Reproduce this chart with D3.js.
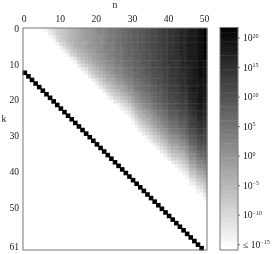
<!DOCTYPE html>
<html>
<head>
<meta charset="utf-8">
<script src="https://cdn.jsdelivr.net/npm/d3@7"></script>
<style>
  html, body { margin: 0; padding: 0; background: #fff; }
  svg { display: block; }
  text { font-family: "Liberation Serif", serif; fill: #222; }
</style>
</head>
<body>
<script>
const nTicks = [0, 10, 20, 30, 40, 50];
const kTicks = [0, 10, 20, 30, 40, 50, 61];
const barExponents = [20, 15, 10, 5, 0, -5, -10, -15];

// black diagonal: rows 12 to 61 for n = 0 to 49
const diagonalRows = [12,13,14,15,16,17,18,19,20,21,22,23,24,25,26,27,28,29,30,31,32,33,34,35,36,
  37,38,39,40,41,42,43,44,45,46,47,48,49,50,51,52,53,54,55,56,57,58,59,60,61];

// cells past the end of a list are at or below the floor
const logByColumn = [
  [], [], [], [], [], [-15],
  [-14],
  [-12,-13,-15],
  [-11,-11,-13,-15],
  [-9,-9,-10,-11,-15],
  [-8,-8,-8,-9,-11,-14],
  [-7,-7,-7,-8,-9,-11,-14],
  [-6,-6,-6,-6,-7,-9,-11,-14],
  [-5,-5,-5,-5,-6,-7,-8,-10,-14],
  [-4,-4,-4,-4,-4,-5,-7,-8,-11,-14],
  [-3,-3,-3,-3,-3,-4,-5,-6,-8,-10,-13],
  [-2,-2,-2,-2,-3,-3,-4,-5,-6,-8,-10,-13],
  [-1,-1,-1,-2,-2,-2,-3,-4,-5,-6,-8,-11,-14],
  [-1,-1,-1,-1,-1,-1,-2,-3,-4,-5,-7,-8,-10,-13],
  [0,0,0,0,0,-1,-1,-2,-2,-3,-5,-6,-8,-10,-13],
  [1,1,1,1,1,0,0,-1,-1,-2,-3,-5,-6,-8,-11,-13],
  [2,2,1,1,1,1,1,0,0,-1,-2,-3,-5,-6,-8,-10,-13],
  [2,2,2,2,2,2,2,1,1,0,-1,-2,-3,-5,-6,-8,-10,-13],
  [3,3,3,3,3,3,2,2,2,1,0,0,-2,-3,-4,-6,-8,-10,-13,-15],
  [4,4,4,4,3,3,3,3,2,2,1,0,0,-2,-3,-5,-6,-8,-10,-13],
  [4,4,4,4,4,4,4,4,3,3,2,2,1,0,-2,-3,-5,-6,-8,-10,-13],
  [5,5,5,5,5,5,5,4,4,4,3,2,2,1,0,-2,-3,-5,-7,-9,-11,-14],
  [6,6,6,6,6,5,5,5,5,4,4,3,3,2,1,-1,-2,-3,-5,-7,-9,-12,-14],
  [6,6,6,6,6,6,6,6,6,5,5,4,4,3,2,1,-1,-2,-4,-6,-8,-10,-12,-14],
  [7,7,7,7,7,7,7,7,6,6,6,5,5,4,3,2,1,0,-2,-4,-5,-8,-10,-12,-14],
  [8,8,8,8,8,7,7,7,7,7,6,6,5,5,4,3,2,1,0,-2,-3,-5,-7,-9,-11,-13,-15],
  [8,8,8,8,8,8,8,8,8,7,7,7,6,6,5,4,4,3,1,0,-1,-3,-4,-6,-8,-10,-12,-14],
  [9,9,9,9,9,9,9,8,8,8,8,7,7,7,6,5,5,4,3,2,1,-1,-2,-4,-5,-7,-9,-11,-13],
  [9,9,9,9,9,9,9,9,9,9,8,8,8,7,7,6,6,5,4,3,2,1,-1,-2,-4,-5,-7,-9,-11,-13],
  [10,10,10,10,10,10,10,10,10,9,9,9,9,8,8,7,6,6,5,4,3,2,1,-1,-2,-4,-5,-7,-9,-11,-13],
  [11,11,11,11,11,11,11,10,10,10,10,10,9,9,9,8,7,7,6,5,4,3,2,1,-1,-2,-3,-5,-7,-9,-11,-13],
  [11,11,11,11,11,11,11,11,11,11,11,10,10,10,9,9,8,8,7,6,6,5,4,2,1,0,-2,-3,-5,-7,-9,-10,-13],
  [12,12,12,12,12,12,12,12,12,11,11,11,11,10,10,10,9,9,8,7,7,6,5,4,3,1,0,-1,-3,-5,-7,-9,-11,-13],
  [13,13,13,13,13,12,12,12,12,12,12,12,11,11,11,10,10,9,9,8,8,7,6,5,4,3,2,0,-1,-3,-5,-7,-9,-11,-13],
  [13,13,13,13,13,13,13,13,13,13,13,12,12,12,12,11,11,10,10,9,9,8,7,6,5,4,3,2,0,-1,-3,-5,-7,-9,-11,-13],
  [14,14,14,14,14,14,14,14,14,14,13,13,13,13,13,12,12,12,11,11,10,9,9,8,7,6,5,4,2,1,-1,-2,-4,-6,-8,-10,-13],
  [14,14,14,14,14,14,14,14,14,14,14,14,14,14,13,13,13,12,12,11,11,10,9,9,8,7,6,5,4,2,1,-1,-2,-4,-6,-8,-10,-13],
  [15,15,15,15,15,15,15,15,15,14,14,14,14,14,14,13,13,13,12,12,11,11,10,9,8,7,6,5,4,3,1,0,-2,-4,-5,-7,-9,-11,-14],
  [16,16,16,16,16,16,16,16,15,15,15,15,15,15,15,14,14,14,13,13,12,12,11,10,10,9,8,7,5,4,3,1,0,-2,-4,-6,-8,-10,-12,-14],
  [16,16,16,16,16,16,16,16,16,16,16,16,15,15,15,15,15,14,14,13,13,12,12,11,10,9,8,7,6,5,4,2,1,-1,-3,-5,-6,-8,-10,-12,-14],
  [17,17,17,17,17,17,17,17,17,17,16,16,16,16,16,16,15,15,14,14,13,13,12,12,11,10,9,9,8,7,6,4,3,1,0,-2,-4,-6,-8,-10,-12,-14],
  [18,18,18,18,18,18,18,18,18,17,17,17,17,17,17,17,17,17,16,16,15,15,14,14,13,12,12,11,10,9,8,7,6,4,3,1,0,-2,-4,-6,-8,-10,-12,-14],
  [18,18,18,18,18,18,18,18,18,18,18,18,18,18,18,18,18,18,17,17,16,16,15,15,14,13,13,12,11,10,9,8,7,5,4,2,0,-1,-3,-5,-7,-9,-11,-13,-15],
  [19,19,19,19,19,19,19,19,19,19,19,19,19,19,19,18,18,18,18,18,18,17,17,16,16,15,14,14,13,12,11,10,9,8,6,5,3,2,0,-2,-4,-6,-8,-10,-12,-14],
  [20,20,20,20,20,20,20,20,20,20,20,20,20,20,19,19,19,19,19,19,19,18,18,17,17,16,15,15,14,13,12,11,10,9,7,6,4,2,1,-1,-3,-5,-7,-9,-11,-13,-15],
  [21,21,21,21,21,21,21,21,21,20,20,20,20,20,20,19,19,19,19,18,18,17,17,16,16,15,15,14,13,12,12,11,10,9,8,7,5,4,2,1,-1,-3,-5,-7,-8,-10,-12,-14]
];

const width = 273, height = 254;
const plot = { left: 23, right: 207, top: 28, bottom: 250 };
const bar = { left: 220, right: 238, top: 27.5, bottom: 250 };
const floorLog = -15.9, ceilLog = 21.8;

const svg = d3.select("body").append("svg")
  .attr("width", width)
  .attr("height", height)
  .style("font-size", "9.6px");

// the reference is a slightly soft downscale
const defs = svg.append("defs");
defs.append("filter").attr("id", "soft")
  .attr("x", "-5%").attr("y", "-5%").attr("width", "110%").attr("height", "110%")
  .append("feGaussianBlur").attr("stdDeviation", 0.45);
defs.append("filter").attr("id", "softText")
  .attr("filterUnits", "userSpaceOnUse")
  .attr("x", 0).attr("y", 0).attr("width", width).attr("height", height)
  .append("feGaussianBlur").attr("stdDeviation", 0.25);

const x = d3.scaleBand().domain(d3.range(51)).range([plot.left, plot.right]);
const y = d3.scaleBand().domain(d3.range(62)).range([plot.top, plot.bottom]);
const shade = d3.scaleLinear().domain([floorLog, ceilLog]).range(["#ffffff", "#000000"]).clamp(true);
const barY = d3.scaleLinear().domain([floorLog, ceilLog]).range([bar.bottom, bar.top]);

const map = svg.append("g").attr("filter", "url(#soft)");

// heat map cells
const cells = logByColumn.flatMap((col, n) => col.map((v, k) => ({ n, k, v })));
map.append("g").selectAll("rect")
  .data(cells)
  .join("rect")
  .attr("x", d => x(d.n))
  .attr("y", d => y(d.k))
  .attr("width", x.bandwidth() + 0.4)
  .attr("height", y.bandwidth() + 0.4)
  .attr("fill", d => shade(d.v));

// diagonal, a bit oversized so the steps join up
map.append("g").selectAll("rect")
  .data(diagonalRows)
  .join("rect")
  .attr("x", (d, i) => x(i) - 0.5)
  .attr("y", d => y(d) - 0.5)
  .attr("width", x.bandwidth() + 1)
  .attr("height", y.bandwidth() + 1)
  .attr("fill", "#000");

// frame
svg.append("rect")
  .attr("x", plot.left).attr("y", plot.top)
  .attr("width", plot.right - plot.left).attr("height", plot.bottom - plot.top)
  .attr("fill", "none").attr("stroke", "#777").attr("stroke-width", 1);

// axes
const labels = svg.append("g").attr("filter", "url(#softText)");
const topAxis = labels.append("g")
  .attr("transform", `translate(-0.6,${plot.top})`)
  .call(d3.axisTop(x).tickValues(nTicks).tickSize(0).tickPadding(6));
const leftAxis = labels.append("g")
  .attr("transform", `translate(${plot.left},-1)`)
  .call(d3.axisLeft(y).tickValues(kTicks).tickSize(0).tickPadding(4));
[topAxis, leftAxis].forEach(a => {
  a.select(".domain").remove();
  a.attr("font-family", null).attr("font-size", null);
});

labels.append("text").attr("x", 115).attr("y", 8).attr("text-anchor", "middle").text("n");
labels.append("text").attr("x", 4).attr("y", 122).attr("text-anchor", "middle").text("k");

// colour bar, drawn in steps as in the original
const barSteps = d3.range(floorLog, ceilLog, (ceilLog - floorLog) / 48);
svg.append("g").selectAll("rect")
  .data(barSteps)
  .join("rect")
  .attr("x", bar.left)
  .attr("y", d => barY(d + (ceilLog - floorLog) / 48))
  .attr("width", bar.right - bar.left)
  .attr("height", (bar.bottom - bar.top) / 48 + 0.4)
  .attr("fill", d => shade(d));

svg.append("rect")
  .attr("x", bar.left).attr("y", bar.top)
  .attr("width", bar.right - bar.left).attr("height", bar.bottom - bar.top)
  .attr("fill", "none").attr("stroke", "#777").attr("stroke-width", 1);

const barTick = svg.append("g").selectAll("g")
  .data(barExponents)
  .join("g")
  .attr("transform", d => `translate(${bar.right},${barY(d)})`);
barTick.append("line").attr("x2", 2).attr("stroke", "#555").attr("stroke-width", 0.8);

const barLabel = labels.append("g").selectAll("text")
  .data(barExponents)
  .join("text")
  .attr("x", bar.right + 5)
  .attr("y", d => barY(d) + 3);
barLabel.append("tspan").text(d => d === -15 ? "≤ 10" : "10");
barLabel.append("tspan")
  .attr("dy", -3.5)
  .style("font-size", "6px")
  .text(d => d < 0 ? "−" + Math.abs(d) : d);
</script>
</body>
</html>
